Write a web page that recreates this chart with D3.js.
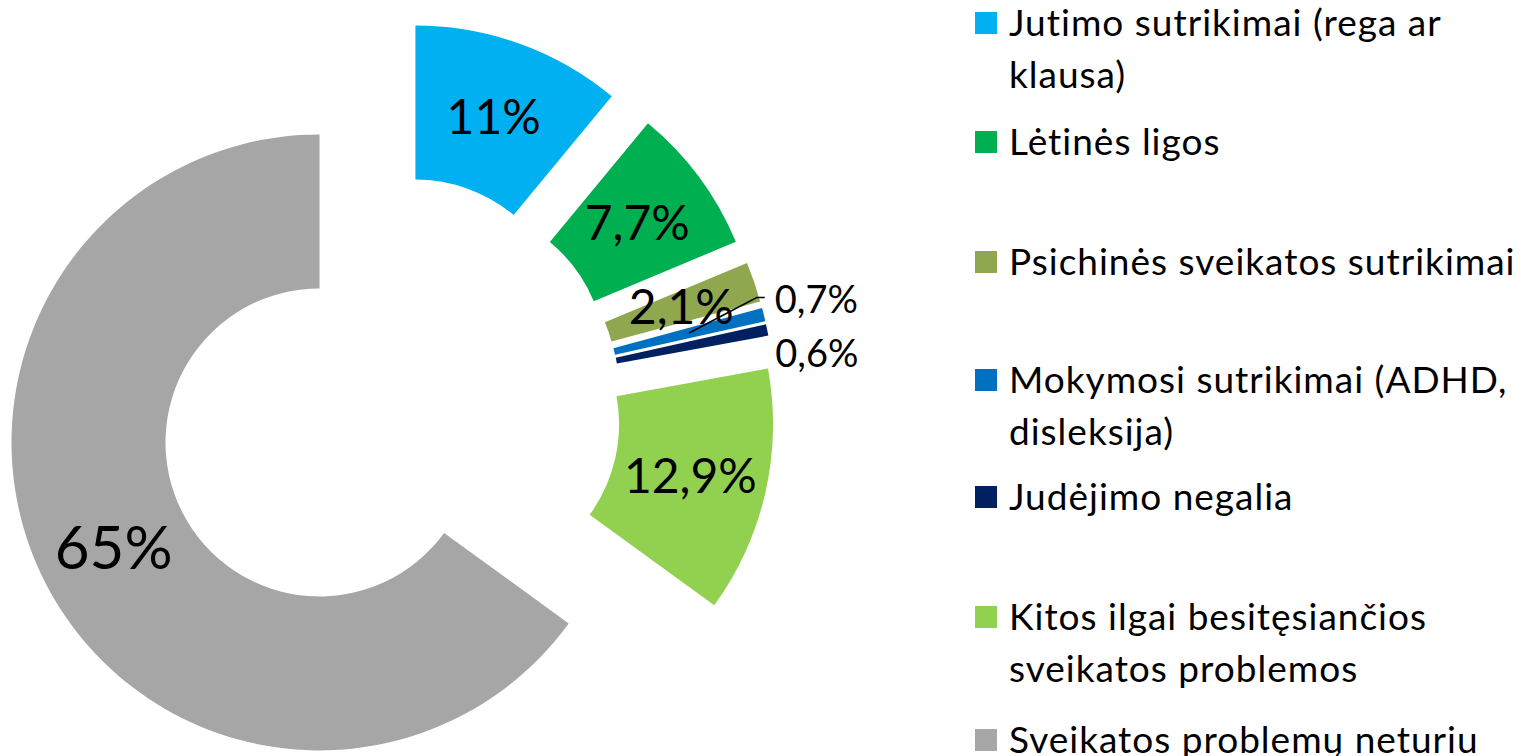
<!DOCTYPE html>
<html>
<head>
  <meta charset="utf-8">
  <script src="https://d3js.org/d3.v7.min.js"></script>
  <style>
  body{
    margin:0;
    background:#fff;
  }
  svg text{
    font-family:Lato, "Open Sans", sans-serif;
    fill:#000;
  }
  .legend text{
    letter-spacing:1px;
  }
  </style>
</head>
<body>
  <svg width="1534" height="756"></svg>
<script>
// data
var categories = ["Jutimo sutrikimai (rega ar klausa)", "Lėtinės ligos", "Psichinės sveikatos sutrikimai",
  "Mokymosi sutrikimai (ADHD, disleksija)", "Judėjimo negalia",
  "Kitos ilgai besitęsiančios sveikatos problemos", "Sveikatos problemų neturiu"];
var values = [11, 7.7, 2.1, 0.7, 0.6, 12.9, 65];
var valueLabels = ["11%", "7,7%", "2,1%", "0,7%", "0,6%", "12,9%", "65%"];
// legend text as wrapped in the original
var legendLines = [["Jutimo sutrikimai (rega ar", "klausa)"], ["Lėtinės ligos"], ["Psichinės sveikatos sutrikimai"],
  ["Mokymosi sutrikimai (ADHD,", "disleksija)"], ["Judėjimo negalia"],
  ["Kitos ilgai besitęsiančios", "sveikatos problemos"], ["Sveikatos problemų neturiu"]];
var colors = ["#00B0F0", "#00B050", "#8FA84F", "#0070C0", "#002060", "#92D050", "#A6A6A6"];

var svg = d3.select("svg");

var cx = 389, cy = 407,
    outerR = 308, innerR = 154,
    explode = 78;

var pie = d3.pie().sort(null).value(function(d){ return d; });
var arc = d3.arc().innerRadius(innerR).outerRadius(outerR);

var slices = pie(values);

function offset(d){
  var a = (d.startAngle + d.endAngle) / 2;
  return [cx + explode * Math.sin(a), cy - explode * Math.cos(a)];
}

var g = svg.append("g");

g.selectAll(".slice")
  .data(slices)
  .enter()
  .append("path")
  .attr("class", "slice")
  .attr("transform", function(d){ var o = offset(d); return "translate(" + o[0] + "," + o[1] + ")"; })
  .attr("d", arc)
  .attr("fill", function(d, i){ return colors[i]; });

// labels inside the slices (the two thin ones get outside labels)
var labelSize = [48, 48, 48, 38, 38, 48, 60];
slices.forEach(function(d, i){
  var o = offset(d);
  var c = arc.centroid(d);
  if (i == 3 || i == 4) {
    var a = (d.startAngle + d.endAngle) / 2;
    var px = o[0] + outerR * Math.sin(a), py = o[1] - outerR * Math.cos(a);
    if (i == 3) {
      // leader line from the slice to the label
      svg.append("polyline")
        .attr("points", [[o[0] + c[0], o[1] + c[1]], [px - 7, py - 17], [px + 1, py - 17]].join(" "))
        .attr("fill", "none")
        .attr("stroke", "#000")
        .attr("stroke-width", 1.5);
      svg.append("text")
        .attr("x", px + 11).attr("y", py - 2)
        .attr("font-size", labelSize[i] + "px")
        .text(valueLabels[i]);
    } else {
      svg.append("text")
        .attr("x", px + 8).attr("y", py + 37)
        .attr("font-size", labelSize[i] + "px")
        .text(valueLabels[i]);
    }
    return;
  }
  svg.append("text")
    .attr("x", o[0] + c[0])
    .attr("y", o[1] + c[1])
    .attr("text-anchor", "middle")
    .attr("dy", "0.36em")
    .attr("font-size", labelSize[i] + "px")
    .text(valueLabels[i]);
});

// legend
var legendY = [36, 155, 275, 393, 510, 630, 753];
var legend = svg.append("g").attr("class", "legend");
legendLines.forEach(function(lines, i){
  legend.append("rect")
    .attr("x", 975).attr("y", legendY[i] - 24)
    .attr("width", 22).attr("height", 22)
    .attr("fill", colors[i]);
  lines.forEach(function(t, j){
    legend.append("text")
      .attr("x", 1009)
      .attr("y", legendY[i] + j * 52)
      .attr("font-size", "37px")
      .text(t);
  });
});
</script>
</body>
</html>
